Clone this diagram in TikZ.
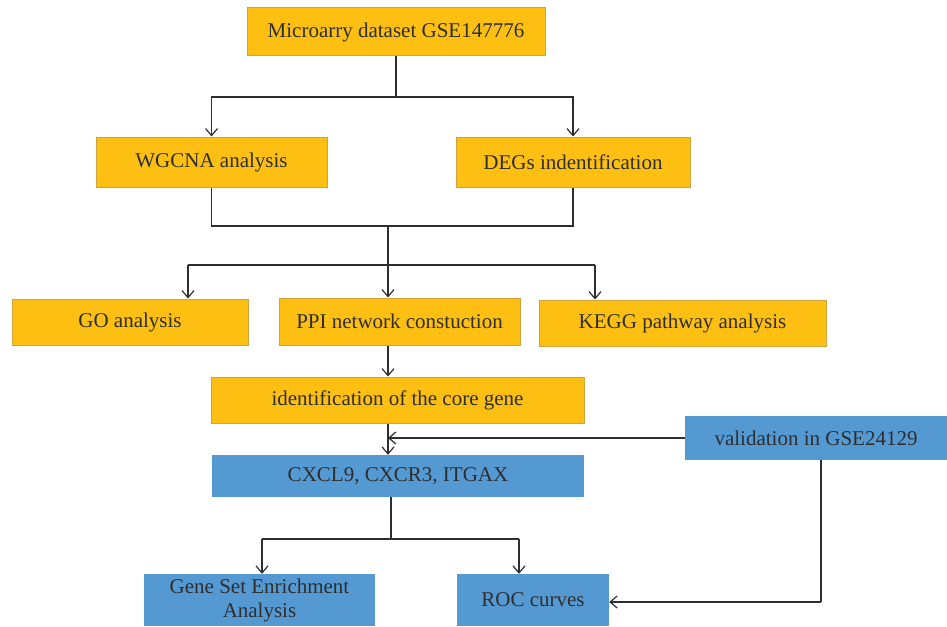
\documentclass[tikz,border=0pt]{standalone}
\usepackage{fontspec}
\setmainfont{Liberation Serif}
\usetikzlibrary{arrows.meta}
\definecolor{gold}{HTML}{FCBF12}
\definecolor{goldline}{HTML}{D2A23E}
\definecolor{bluebox}{HTML}{5599D3}
\definecolor{ink}{HTML}{2E2E2E}
\begin{document}
\begin{tikzpicture}[x=1pt,y=-1pt,
  box/.style={draw=goldline, line width=1pt, fill=gold, text=ink, font=\fontsize{21}{24}\selectfont, inner sep=0pt, anchor=center},
  bbox/.style={fill=bluebox, text=ink, font=\fontsize{21}{24}\selectfont, inner sep=0pt, anchor=center, align=center},
  conn/.style={draw=ink, line width=1.2pt},
  arr/.style={conn, -{Straight Barb[length=7pt,width=12pt,line width=1.2pt]}}]
\useasboundingbox (0,0) rectangle (947,626);
% nodes
\node[box, minimum width=298, minimum height=48] (top) at (396,32) {Microarry dataset GSE147776};
\node[box, minimum width=231, minimum height=50] (wg) at (211.5,162) {WGCNA analysis};
\node[box, minimum width=234, minimum height=50] (deg) at (573,162) {DEGs indentification};
\node[box, minimum width=236, minimum height=46] (go) at (130,322) {GO analysis};
\node[box, minimum width=241, minimum height=47] (ppi) at (399.5,321.5) {PPI network constuction};
\node[box, minimum width=287, minimum height=46] (kegg) at (682.5,323) {KEGG pathway analysis};
\node[box, minimum width=373, minimum height=46] (core) at (397.5,400) {identification of the core gene};
\node[bbox, minimum width=372, minimum height=42] (cx) at (398,476) {CXCL9, CXCR3, ITGAX};
\node[bbox, minimum width=262, minimum height=44] (val) at (816,438) {validation in GSE24129};
\node[bbox, minimum width=231, minimum height=52] (gsea) at (259.5,600) {Gene Set Enrichment\\Analysis};
\node[bbox, minimum width=152, minimum height=52] (roc) at (533,600) {ROC curves};
% junction coordinates
\coordinate (j1) at (396,97);
\coordinate (j2) at (388,226);
\coordinate (h1) at (188,265);
\coordinate (h2) at (595,265);
\coordinate (v1) at (821,602);
\coordinate (j3) at (391,539);
\coordinate (b1) at (262,539);
\coordinate (b2) at (519,539);
% connectors
\draw[conn] (top.south) -- (j1);
\draw[arr] (j1) -| (wg.north);
\draw[arr] (j1) -| (deg.north);
\draw[conn] (wg.south) -- (wg.south |- j2) -- (deg.south |- j2) -- (deg.south);
\draw[arr] (j2) -- (j2 |- ppi.north);
\draw[conn] (h1) -- (h2);
\draw[arr] (h1) -- (h1 |- go.north);
\draw[arr] (h2) -- (h2 |- kegg.north);
\draw[arr] (j2 |- ppi.south) -- (j2 |- core.north);
\draw[arr] (j2 |- core.south) -- (j2 |- cx.north);
\draw[arr] (val.west) -- (val.west -| j2);
\draw[conn] (v1 |- val.south) -- (v1);
\draw[arr] (v1) -- (v1 -| roc.east);
\draw[conn] (j3 |- cx.south) -- (j3);
\draw[conn] (b1) -- (b2);
\draw[arr] (b1) -- (b1 |- gsea.north);
\draw[arr] (b2) -- (b2 |- roc.north);
\end{tikzpicture}
\end{document}
